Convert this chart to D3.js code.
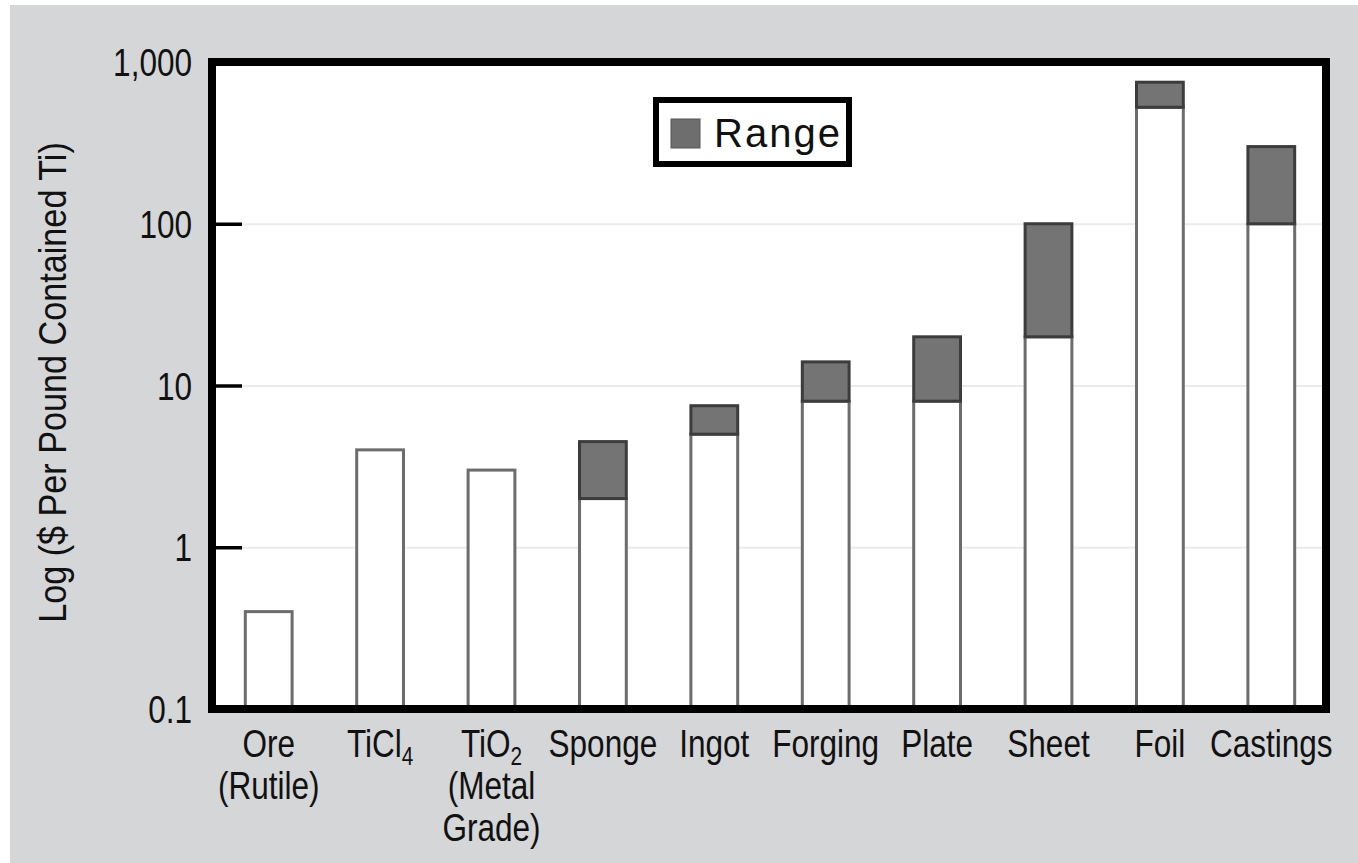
<!DOCTYPE html>
<html lang="en">
<head>
  <meta charset="UTF-8">
  <title>Titanium Price by Product Form</title>
  <script src="https://d3js.org/d3.v7.min.js"></script>
  <style>
    body {
      margin: 0;
      background: #fff;
    }
    svg text {
      font-family: "Liberation Sans", Arial, sans-serif;
      fill: #111;
    }
  </style>
</head>
<body>
  <svg id="chart" width="1358" height="863"></svg>

  <script>
    const svg = d3.select("#chart");

    // Categories (one string per label line, "_n" = subscript)
    const categories = ["Ore", "TiCl4", "TiO2", "Sponge", "Ingot", "Forging", "Plate", "Sheet", "Foil", "Castings"];
    const labelLines = [
      ["Ore", "(Rutile)"],
      ["TiCl_4"],
      ["TiO_2", "(Metal", "Grade)"],
      ["Sponge"],
      ["Ingot"],
      ["Forging"],
      ["Plate"],
      ["Sheet"],
      ["Foil"],
      ["Castings"]
    ];
    // lower price ($/lb) and upper end of range (null = no range)
    const lowValues  = [0.4, 4, 3, 2, 5, 8, 8, 20, 525, 100];
    const highValues = [null, null, null, 4.5, 7.5, 14, 20, 100, 750, 300];
    const yTicks = [0.1, 1, 10, 100, 1000];
    const yTickLabels = ["0.1", "1", "10", "100", "1,000"];

    const bars = categories.map((c, i) => ({ name: c, low: lowValues[i], high: highValues[i], lines: labelLines[i] }));

    // plot frame (border centre lines)
    const plotLeft = 212, plotRight = 1326, plotTop = 62, plotBottom = 709;

    const x = d3.scaleBand().domain(categories).range([plotLeft + 1, plotRight + 1])
      .paddingInner(0.58).paddingOuter(0.29);
    const y = d3.scaleLog().domain([0.1, 1000]).range([plotBottom, plotTop]);

    // background
    svg.append("rect").attr("x", 10).attr("y", 5).attr("width", 1348).attr("height", 858).attr("fill", "#d4d6d8");
    svg.append("rect").attr("x", plotLeft).attr("y", plotTop)
      .attr("width", plotRight - plotLeft).attr("height", plotBottom - plotTop).attr("fill", "#fff");

    // light gridlines
    const grid = svg.append("g")
      .attr("transform", `translate(${plotLeft + 30},0)`)
      .call(d3.axisRight(y).tickValues([1, 10, 100]).tickSize(plotRight - plotLeft - 34).tickFormat(""));
    grid.select(".domain").remove();
    grid.selectAll("line").attr("stroke", "#ebebeb").attr("stroke-width", 2);

    // bars: white part
    svg.append("g")
      .selectAll("rect")
      .data(bars)
      .join("rect")
      .attr("x", d => x(d.name))
      .attr("width", x.bandwidth())
      .attr("y", d => y(d.low))
      .attr("height", d => plotBottom - y(d.low))
      .attr("fill", "#fff")
      .attr("stroke", "#6c6c6c")
      .attr("stroke-width", 3);

    // bars: range part
    svg.append("g")
      .selectAll("rect")
      .data(bars.filter(d => d.high))
      .join("rect")
      .attr("x", d => x(d.name))
      .attr("width", x.bandwidth())
      .attr("y", d => y(d.high))
      .attr("height", d => y(d.low) - y(d.high))
      .attr("fill", "#747474")
      .attr("stroke", "#3c3c3c")
      .attr("stroke-width", 3);

    // inner tick marks
    const ticks = svg.append("g")
      .attr("transform", `translate(${plotLeft + 3},0)`)
      .call(d3.axisRight(y).tickValues([1, 10, 100]).tickSize(27).tickFormat(""));
    ticks.select(".domain").remove();
    ticks.selectAll("line").attr("stroke", "#000").attr("stroke-width", 3.5);

    // frame
    svg.append("rect")
      .attr("x", plotLeft).attr("y", plotTop)
      .attr("width", plotRight - plotLeft).attr("height", plotBottom - plotTop)
      .attr("fill", "none").attr("stroke", "#000").attr("stroke-width", 8);

    // y tick labels (condensed)
    const yAxis = svg.append("g")
      .attr("transform", `translate(${plotLeft - 20},0)`)
      .call(d3.axisLeft(y).tickValues(yTicks).tickSize(0).tickPadding(0)
        .tickFormat((d, i) => yTickLabels[i]));
    yAxis.select(".domain").remove();
    yAxis.selectAll("text")
      .attr("x", 0)
      .attr("dy", "0.36em")
      .attr("transform", "scale(0.83,1)")
      .style("font-size", "38px")
      .style("font-family", "'Liberation Sans', Arial, sans-serif")
      .attr("fill", "#111");

    // x category labels
    const lineGap = 42;
    const labels = svg.append("g").selectAll("g")
      .data(bars)
      .join("g")
      .attr("transform", d => `translate(${x(d.name) + x.bandwidth() / 2},757)`);

    labels.each(function (d) {
      const g = d3.select(this);
      d.lines.forEach((line, i) => {
        const t = g.append("text")
          .attr("transform", `translate(0,${i * lineGap}) scale(0.83,1)`)
          .attr("text-anchor", "middle")
          .style("font-size", "38px");
        const parts = line.split("_");
        t.append("tspan").text(parts[0]);
        if (parts[1]) {
          t.append("tspan").attr("dy", 8).style("font-size", "25px").text(parts[1]);
        }
      });
    });

    // y axis title
    svg.append("text")
      .attr("transform", `translate(66,${(plotTop + plotBottom) / 2 - 3}) rotate(-90) scale(0.9,1)`)
      .attr("text-anchor", "middle")
      .style("font-size", "38px")
      .text("Log ($ Per Pound Contained Ti)");

    // legend
    const legend = svg.append("g");
    legend.append("rect")
      .attr("x", 656).attr("y", 100).attr("width", 193).attr("height", 64)
      .attr("fill", "#fff").attr("stroke", "#000").attr("stroke-width", 6);
    legend.append("rect")
      .attr("x", 671).attr("y", 119).attr("width", 29).attr("height", 29)
      .attr("fill", "#6e6e6e").attr("stroke", "#555").attr("stroke-width", 1);
    legend.append("text")
      .attr("x", 714).attr("y", 147)
      .style("font-size", "40px")
      .style("letter-spacing", "2px")
      .text("Range");
  </script>
</body>
</html>
